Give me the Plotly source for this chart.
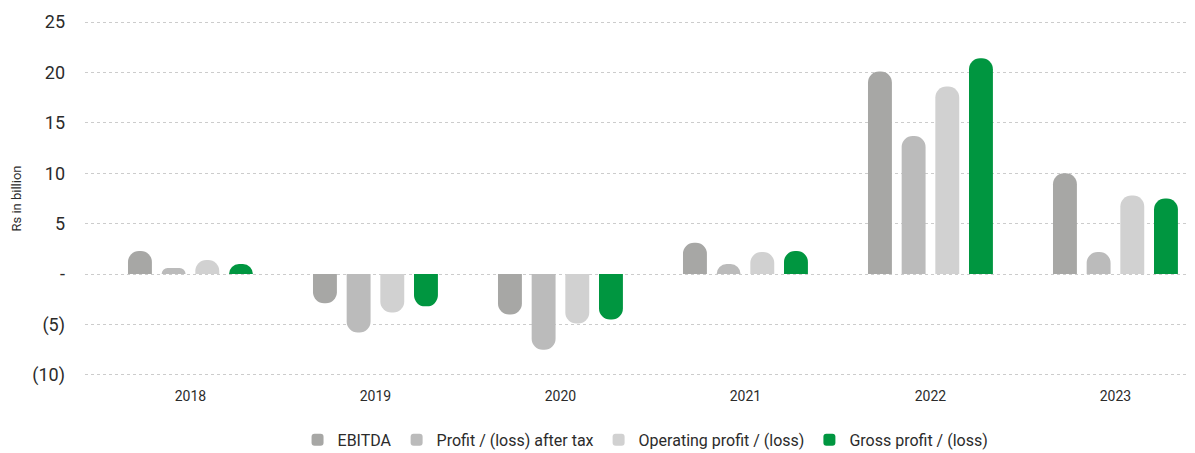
import plotly.graph_objects as go

years = ["2018", "2019", "2020", "2021", "2022", "2023"]
ebitda = [2.3, -2.9, -4.0, 3.1, 20.1, 10.0]
profit_after_tax = [0.6, -5.8, -7.5, 1.0, 13.7, 2.2]
operating_profit = [1.4, -3.8, -4.9, 2.2, 18.6, 7.8]
gross_profit = [1.0, -3.2, -4.5, 2.3, 21.4, 7.5]

tick_vals = [25, 20, 15, 10, 5, 0, -5, -10]
tick_text = ["25", "20", "15", "10", "5", "-", "(5)", "(10)"]

series = [
    ("EBITDA", ebitda, "#a7a7a5"),
    ("Profit / (loss) after tax", profit_after_tax, "#bbbbbb"),
    ("Operating profit / (loss)", operating_profit, "#d1d1d1"),
    ("Gross profit / (loss)", gross_profit, "#009640"),
]

fig = go.Figure()
for name, vals, color in series:
    fig.add_trace(go.Bar(
        x=years, y=vals, name=name,
        marker=dict(color=color, line=dict(width=0)),
    ))

# page body has an 8px margin, so the figure is a bit smaller than the window
fig.update_layout(
    width=1187, height=445,
    margin=dict(l=77, r=0, t=4, b=68, autoexpand=False),
    paper_bgcolor="white", plot_bgcolor="white",
    font=dict(family="Roboto", color="#2b2b2b"),
    barmode="group",
    bargap=0.272,
    bargroupgap=0.29,
    barcornerradius="50%",
    showlegend=True,
    legend=dict(
        orientation="h", x=0.505, xanchor="center", y=-0.147, yanchor="middle",
        font=dict(size=16, color="#2b2b2b"),
    ),
)

fig.update_xaxes(
    type="category", range=[-0.57, 5.43], automargin=False,
    showgrid=False, showline=False, zeroline=False,
    ticks="", tickfont=dict(size=14, color="#2b2b2b"), ticklabelstandoff=1,
)
fig.update_yaxes(
    range=[-11, 26], automargin=False,
    tickvals=tick_vals, ticktext=tick_text,
    tickfont=dict(size=18, color="#2b2b2b"), ticklabelstandoff=19,
    showgrid=True, gridcolor="#cccccc", griddash="dot", gridwidth=1,
    zeroline=False, showline=False, ticks="",
    title=dict(text="Rs in billion", font=dict(size=13, color="#2b2b2b"), standoff=7),
)

fig.write_html("out.html")
